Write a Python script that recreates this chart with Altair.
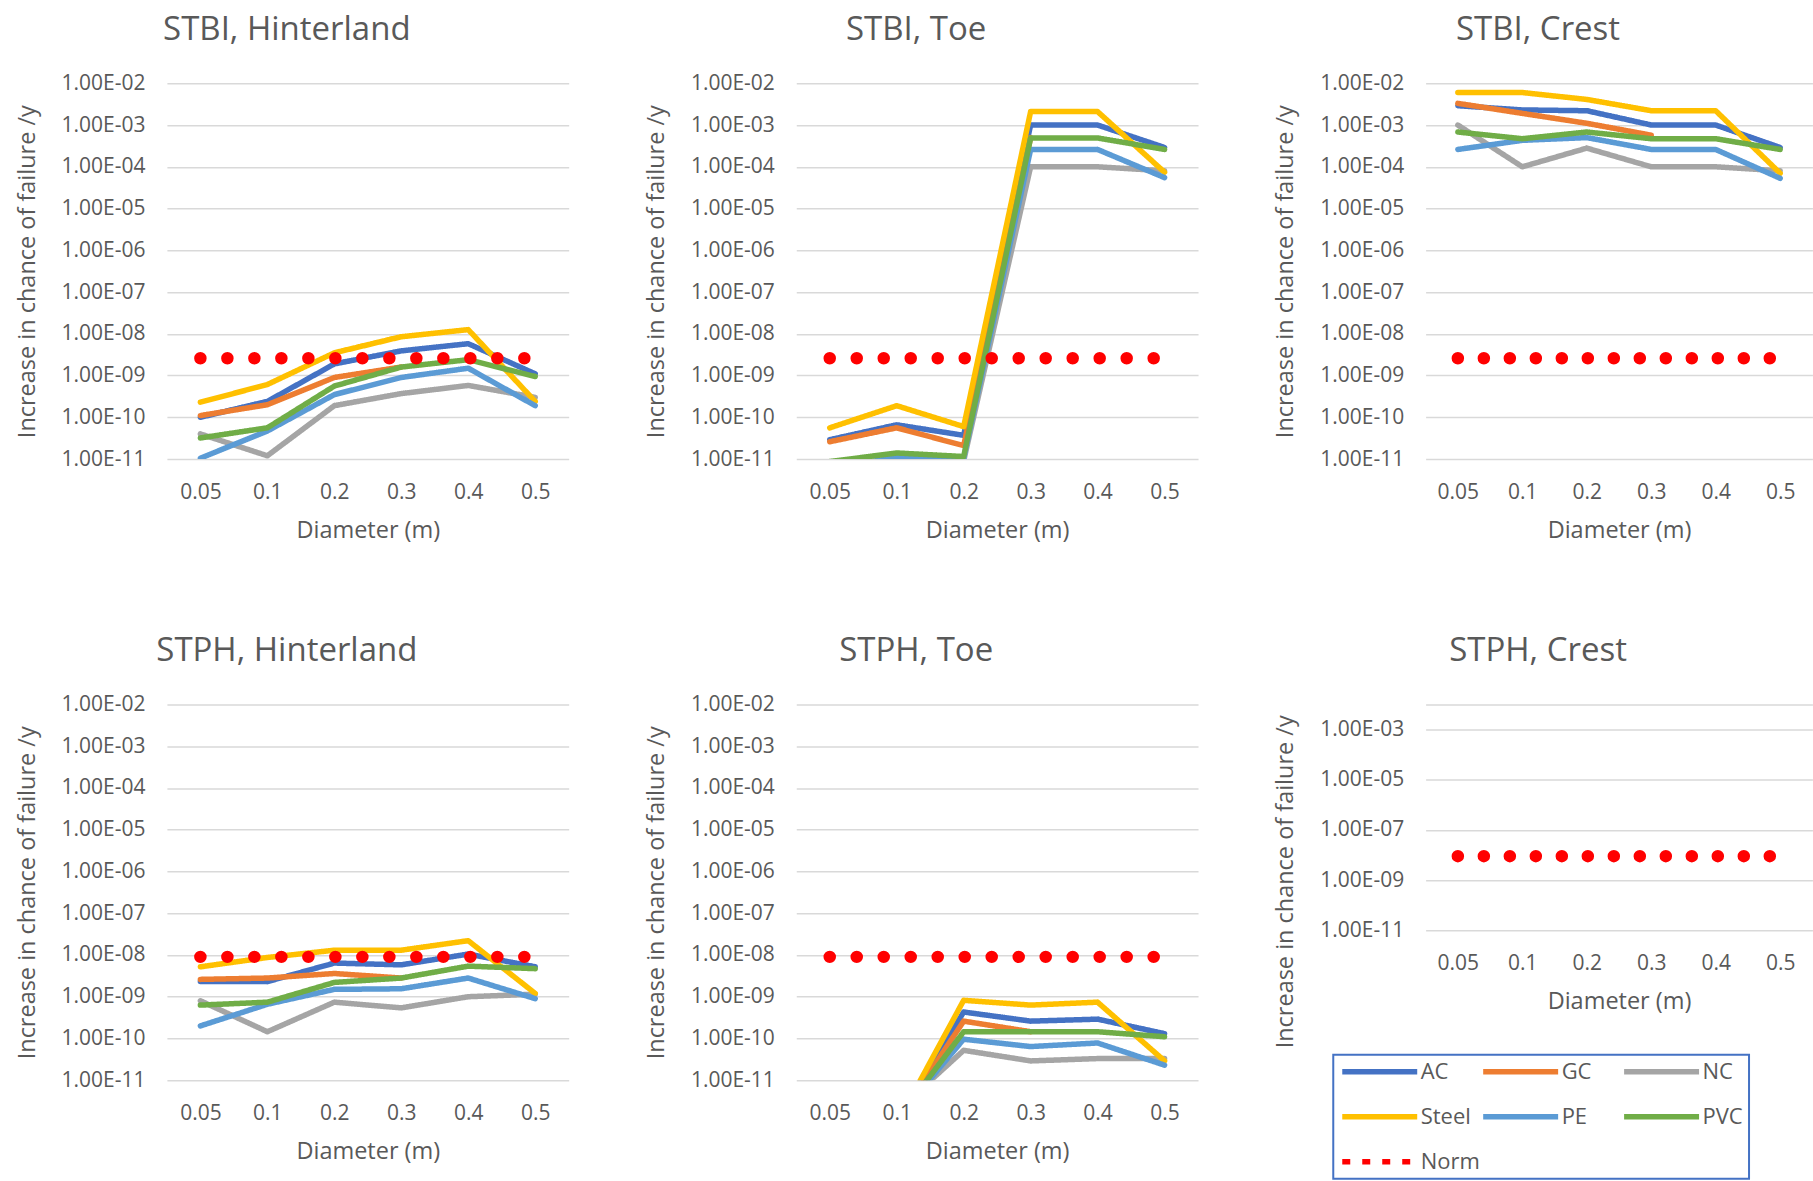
import altair as alt
import pandas as pd

# Pipe diameters (m) on the category axis
diameters = ["0.05", "0.1", "0.2", "0.3", "0.4", "0.5"]

# Pipe materials and their line colours
materials = ["AC", "GC", "NC", "Steel", "PE", "PVC"]
material_colors = ["#4472C4", "#ED7D31", "#A5A5A5", "#FFC000", "#5B9BD5", "#70AD47"]
norm_label = "Norm"
norm_color = "#FF0000"

# Increase in chance of failure per year, one list per material (None = no value)
stbi_hinterland = {
    "AC":    [1.0e-10, 2.4e-10, 1.9e-9, 3.9e-9, 5.8e-9, 1.1e-9],
    "GC":    [1.1e-10, 2.0e-10, 9.0e-10, 1.6e-9, None, None],
    "NC":    [4.0e-11, 1.2e-11, 1.9e-10, 3.7e-10, 5.8e-10, 3.0e-10],
    "Steel": [2.3e-10, 6.1e-10, 3.5e-9, 8.5e-9, 1.26e-8, 2.4e-10],
    "PE":    [1.05e-11, 4.7e-11, 3.5e-10, 9.0e-10, 1.5e-9, 1.9e-10],
    "PVC":   [3.2e-11, 5.6e-11, 5.6e-10, 1.6e-9, 2.4e-9, 9.5e-10],
}
stbi_toe = {
    "AC":    [2.9e-11, 6.6e-11, 3.7e-11, 1.0e-3, 1.0e-3, 2.9e-4],
    "GC":    [2.6e-11, 5.6e-11, 2.1e-11, 5.0e-4, None, None],
    "NC":    [4.0e-12, 8.0e-12, 9.0e-12, 1.0e-4, 1.0e-4, 8.0e-5],
    "Steel": [5.6e-11, 1.9e-10, 6.0e-11, 2.1e-3, 2.1e-3, 7.4e-5],
    "PE":    [6.0e-12, 1.1e-11, 1.05e-11, 2.6e-4, 2.6e-4, 5.5e-5],
    "PVC":   [8.7e-12, 1.4e-11, 1.15e-11, 4.9e-4, 4.9e-4, 2.6e-4],
}
stbi_crest = {
    "AC":    [2.9e-3, 2.3e-3, 2.2e-3, 1.0e-3, 1.0e-3, 2.9e-4],
    "GC":    [3.3e-3, 1.9e-3, 1.1e-3, 5.7e-4, None, None],
    "NC":    [1.0e-3, 1.0e-4, 2.8e-4, 1.0e-4, 1.0e-4, 8.0e-5],
    "Steel": [6.0e-3, 6.0e-3, 4.1e-3, 2.2e-3, 2.2e-3, 7.0e-5],
    "PE":    [2.6e-4, 4.3e-4, 5.0e-4, 2.6e-4, 2.6e-4, 5.3e-5],
    "PVC":   [6.8e-4, 4.7e-4, 6.8e-4, 4.7e-4, 4.7e-4, 2.6e-4],
}
stph_hinterland = {
    "AC":    [2.3e-9, 2.3e-9, 6.4e-9, 5.8e-9, 1.05e-8, 5.2e-9],
    "GC":    [2.6e-9, 2.8e-9, 3.6e-9, 2.8e-9, None, None],
    "NC":    [8.0e-10, 1.45e-10, 7.4e-10, 5.4e-10, 1.0e-9, 1.15e-9],
    "Steel": [5.2e-9, 8.7e-9, 1.3e-8, 1.3e-8, 2.2e-8, 1.2e-9],
    "PE":    [2.0e-10, 6.6e-10, 1.5e-9, 1.55e-9, 2.8e-9, 9.0e-10],
    "PVC":   [6.3e-10, 7.4e-10, 2.2e-9, 2.8e-9, 5.4e-9, 4.7e-9],
}
stph_toe = {
    "AC":    [1.0e-12, 1.1e-12, 4.3e-10, 2.6e-10, 2.9e-10, 1.3e-10],
    "GC":    [1.0e-12, 1.0e-12, 2.6e-10, 1.45e-10, None, None],
    "NC":    [1.0e-12, 1.8e-12, 5.2e-11, 2.9e-11, 3.3e-11, 3.3e-11],
    "Steel": [1.0e-12, 9.0e-13, 8.2e-10, 6.3e-10, 7.4e-10, 2.9e-11],
    "PE":    [1.0e-12, 1.2e-12, 9.6e-11, 6.4e-11, 7.8e-11, 2.3e-11],
    "PVC":   [1.0e-12, 1.1e-12, 1.45e-10, 1.45e-10, 1.45e-10, 1.1e-10],
}
stph_crest = {m: [None] * 6 for m in materials}

# Norm level per failure mechanism
norm_stbi = 2.6e-9
norm_stph = 9.0e-9

panels = [
    ("STBI, Hinterland", stbi_hinterland, norm_stbi),
    ("STBI, Toe", stbi_toe, norm_stbi),
    ("STBI, Crest", stbi_crest, norm_stbi),
    ("STPH, Hinterland", stph_hinterland, norm_stph),
    ("STPH, Toe", stph_toe, norm_stph),
    ("STPH, Crest", stph_crest, norm_stph),
]

line_rows, norm_rows = [], []
for name, table, norm in panels:
    for m in materials:
        for d, v in zip(diameters, table[m]):
            if v is not None:
                line_rows.append({"panel": name, "series": m, "diameter": d, "value": v})
    for d in diameters:
        norm_rows.append({"panel": name, "series": norm_label, "diameter": d, "value": norm})
lines_df = pd.DataFrame(line_rows)
norm_df = pd.DataFrame(norm_rows)

FONT = "Open Sans"
TEXT = "#595959"
GRID = "#D9D9D9"

series_domain = materials + [norm_label]
legend = alt.Legend(
    title=None, orient="none", legendX=1167, legendY=972, columns=3, direction="horizontal",
    symbolType="stroke", symbolSize=5625, labelFontSize=22, labelFont=FONT,
    labelColor=TEXT, labelOffset=0.5, rowPadding=23, columnPadding=0, padding=6,
    clipHeight=22, strokeColor="#4472C4", gridAlign="all",
)
color_enc = alt.Color("series:N", scale=alt.Scale(domain=series_domain, range=material_colors + [norm_color]), legend=legend)
dash_enc = alt.StrokeDash("series:N", scale=alt.Scale(domain=series_domain, range=[[1, 0]] * 6 + [[8, 12]]), legend=legend)
width_enc = alt.StrokeWidth("series:N", scale=alt.Scale(domain=series_domain, range=[5.5] * 6 + [8]), legend=legend)

label_expr = "'1.00E-' + (round(-log(datum.value) / LN10) < 10 ? '0' : '') + round(-log(datum.value) / LN10)"
full_ticks = [1e-2, 1e-3, 1e-4, 1e-5, 1e-6, 1e-7, 1e-8, 1e-9, 1e-10, 1e-11]
sparse_ticks = [1e-2, 1e-3, 1e-5, 1e-7, 1e-9, 1e-11]


def panel(name, width, height, ticks, expr, norm_gap, title_y=None, title_dy=0):
    x_enc = alt.X(
        "diameter:O", sort=diameters,
        scale=alt.Scale(type="point", domain=diameters, padding=0.5),
        axis=alt.Axis(title="Diameter (m)", labelAngle=0, domain=False, ticks=False,
                      grid=False, labelPadding=22, titlePadding=16, labelFontSize=21),
    )
    y_axis = dict(values=ticks, labelExpr=expr, title="Increase in chance of failure /y",
                  domain=False, ticks=False, grid=True, gridColor=GRID, gridWidth=1.5,
                  labelPadding=22, titlePadding=22, labelFontSize=21)
    if title_y is not None:
        y_axis["titleY"] = title_y
    y_enc = alt.Y("value:Q", scale=alt.Scale(type="log", domain=[1e-11, 1e-2]), axis=alt.Axis(**y_axis))

    lines = alt.Chart(lines_df).transform_filter(alt.datum.panel == name).mark_line(
        strokeCap="round", strokeJoin="round", clip=True
    ).encode(x=x_enc, y=y_enc, color=color_enc, strokeDash=dash_enc, strokeWidth=width_enc)

    norm = alt.Chart(norm_df).transform_filter(alt.datum.panel == name).mark_line(
        color=norm_color, strokeWidth=12.5, strokeDash=[0.01, norm_gap], strokeCap="round", clip=True
    ).encode(x=x_enc, y=y_enc)

    return alt.layer(lines, norm).properties(
        width=width, height=height,
        title=alt.TitleParams(name, frame="bounds", dx=-5, dy=title_dy),
    )


W, H = 402, 376
W3 = 387
p1 = panel("STBI, Hinterland", W, H, full_ticks, label_expr, 27.0)
p2 = panel("STBI, Toe", W, H, full_ticks, label_expr, 27.0)
p3 = panel("STBI, Crest", W3, H, full_ticks, label_expr, 26.0)
p4 = panel("STPH, Hinterland", W, H, full_ticks, label_expr, 27.0)
p5 = panel("STPH, Toe", W, H, full_ticks, label_expr, 27.0)
p6 = panel("STPH, Crest", W3, 226, sparse_ticks, "datum.value > 0.005 ? '' : " + label_expr, 26.0,
           title_y=177, title_dy=-11.5)

row1 = alt.hconcat(p1, p2, p3, spacing=75.7)
row2 = alt.hconcat(p4, p5, p6, spacing=75.7)

chart = (
    alt.vconcat(row1, row2, spacing=92.5)
    .resolve_scale(color="shared", strokeDash="shared", strokeWidth="shared")
    .properties(padding={"left": 15, "top": 14, "right": 0, "bottom": 0}, background="white")
    .configure(font=FONT)
    .configure_view(stroke=None)
    .configure_axis(labelColor=TEXT, titleColor=TEXT, labelFont=FONT, titleFont=FONT,
                    titleFontSize=23.5, titleFontWeight="normal")
    .configure_title(font=FONT, fontSize=33, color=TEXT, fontWeight="normal", offset=25, anchor="middle")
    .configure_legend(strokeWidth=2)
)

chart.save("out.html", embed_options={"renderer": "svg", "actions": False})
